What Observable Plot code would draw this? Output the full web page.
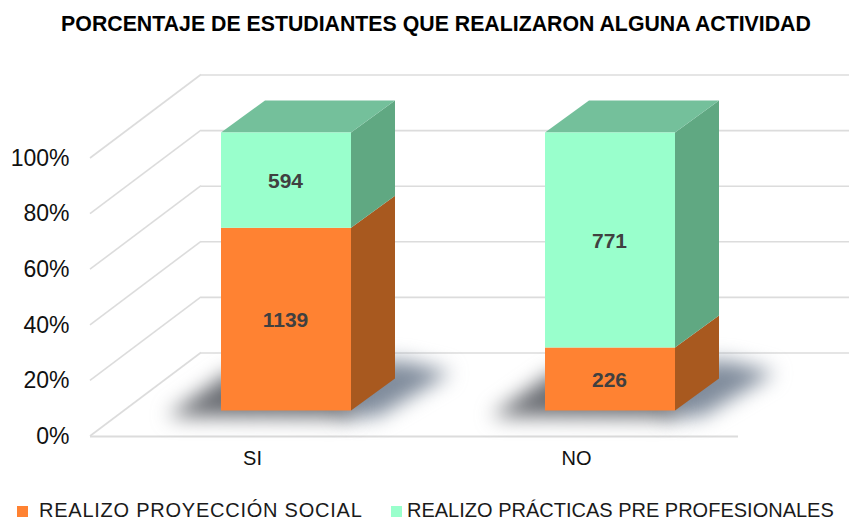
<!DOCTYPE html>
<html>
<head>
<meta charset="utf-8">
<script src="https://cdn.jsdelivr.net/npm/d3@7"></script>
<script src="https://cdn.jsdelivr.net/npm/@observablehq/plot@0.6"></script>
<style>
  html, body { margin: 0; padding: 0; background: #fff; }
  body { position: relative; width: 863px; height: 520px; overflow: hidden; font-family: "Liberation Sans", Arial, sans-serif; }
  #title { position: absolute; left: 0; top: 12px; width: 872px; text-align: center; font-weight: bold; font-size: 21.3px; line-height: 24px; color: #000; white-space: nowrap; }
  #chart { position: absolute; left: 0; top: 48px; }
  #chart svg { display: block; overflow: visible; }
  .key { position: absolute; top: 502px; font-size: 20px; line-height: 17px; color: #1a1a1a; white-space: nowrap; }
  .swatch { position: absolute; top: 506px; width: 11px; height: 11px; }
</style>
</head>
<body>
<div id="title"></div>
<div id="chart"></div>
<script>
const chartTitle = "PORCENTAJE DE ESTUDIANTES QUE REALIZARON ALGUNA ACTIVIDAD";
const categories = ["SI", "NO"];
const seriesNames = ["REALIZO PROYECCIÓN SOCIAL", "REALIZO PRÁCTICAS PRE PROFESIONALES"];
const proyeccion = [1139, 226];
const practicas = [594, 771];
const percentTicks = [0, 0.2, 0.4, 0.6, 0.8, 1];
const frontColors = ["#FF8232", "#99FFCC"];
const sideColors = ["#A8591F", "#60A882"];
const topColor = "#74C09B";
const gridColor = "#DCDCDC";

const rows = categories.flatMap((c, i) => [
  {categoria: c, serie: seriesNames[0], valor: proyeccion[i]},
  {categoria: c, serie: seriesNames[1], valor: practicas[i]}
]);

// 3D projection offsets (pixels)
const wall = {dx: 111, dy: -83.5};
const bar = {dx: 34, dy: -25.5, depthX: 44, depthY: -32};

const stacked = (extra) => Plot.stackY({
  x: "categoria", y: "valor", offset: "normalize", ...extra
});

const poly = (g, pts, fill, style) => {
  const p = g.append("polygon")
    .attr("points", pts.map(q => q.join(",")).join(" "))
    .attr("fill", fill);
  if (style) p.attr("style", style);
};

function shadows(index, scales, values) {
  const g = d3.create("svg:g");
  const w = scales.x.bandwidth();
  const y0 = scales.y(0) + bar.dy;
  for (const i of index) {
    if (rows[i].serie !== seriesNames[0]) continue;
    const xl = values.x[i] + bar.dx, xr = xl + w;
    poly(g, [
      [xr - 10, y0 + 6], [xr + 26, y0 + 6],
      [xr + 100, y0 - 38], [xr + 50, y0 - 50], [xr - 10, y0 - 44]
    ], "#808c9c", "filter: blur(10px)");
    poly(g, [
      [xl - 54, y0 + 6], [xr, y0 + 7],
      [xr, y0 - 36], [xl + 8, y0 - 38]
    ], "#6a6d73", "filter: blur(10px)");
  }
  return g.node();
}

function boxFaces(index, scales, values) {
  const g = d3.create("svg:g");
  const w = scales.x.bandwidth();
  const top = scales.y(1);
  for (const i of index) {
    const xl = values.x[i] + bar.dx, xr = xl + w;
    const y1 = values.y1[i] + bar.dy, y2 = values.y2[i] + bar.dy;
    const side = sideColors[seriesNames.indexOf(rows[i].serie)];
    poly(g, [
      [xr, y1], [xr + bar.depthX, y1 + bar.depthY],
      [xr + bar.depthX, y2 + bar.depthY], [xr, y2]
    ], side);
    if (Math.abs(values.y2[i] - top) < 0.5) {
      poly(g, [
        [xl, y2], [xl + bar.depthX, y2 + bar.depthY],
        [xr + bar.depthX, y2 + bar.depthY], [xr, y2]
      ], topColor);
    }
  }
  return g.node();
}

function sideWall(index, scales, values) {
  const g = d3.create("svg:g");
  const x0 = 90;
  for (const i of index) {
    g.append("line")
      .attr("x1", x0).attr("y1", values.y[i])
      .attr("x2", x0 + wall.dx).attr("y2", values.y[i] + wall.dy)
      .attr("stroke", gridColor).attr("stroke-width", 1.6);
  }
  return g.node();
}

const plot = Plot.plot({
  width: 863,
  height: 430,
  marginLeft: 90,
  marginRight: 125,
  marginTop: 110,
  marginBottom: 42,
  style: {background: "transparent", fontFamily: "Liberation Sans, Arial, sans-serif"},
  x: {domain: categories, paddingInner: 0.6, paddingOuter: 0.3, label: null},
  y: {domain: [0, 1], label: null},
  color: {domain: seriesNames, range: frontColors},
  marks: [
    Plot.ruleY(percentTicks, {dx: wall.dx, dy: wall.dy, stroke: gridColor, strokeWidth: 1.6}),
    Plot.ruleY(percentTicks, {y: d => d, render: sideWall}),
    Plot.ruleY([0], {stroke: gridColor, strokeWidth: 2}),
    Plot.barY(rows, stacked({render: shadows})),
    Plot.barY(rows, stacked({render: boxFaces})),
    Plot.barY(rows, stacked({fill: "serie", dx: bar.dx, dy: bar.dy})),
    Plot.text(rows, stacked({
      text: d => String(d.valor), dx: bar.dx - 1, dy: bar.dy + 1,
      fill: "#404040", fontWeight: "bold", fontSize: 21
    })),
    Plot.axisY({
      ticks: percentTicks, tickFormat: d => `${Math.round(d * 100)}%`,
      tickSize: 0, tickPadding: 21, fontSize: 23, label: null, fill: "#111"
    }),
    Plot.axisX({tickSize: 0, tickPadding: 14, fontSize: 20, label: null, fill: "#111"})
  ]
});
document.getElementById("chart").appendChild(plot);
document.getElementById("title").textContent = chartTitle;

const keyX = [[17, 39], [391, 407]];
const keySpacing = [0.76, 0];
seriesNames.forEach((name, i) => {
  const s = document.createElement("div");
  s.className = "swatch";
  s.style.left = keyX[i][0] + "px";
  s.style.background = frontColors[i];
  document.body.appendChild(s);
  const t = document.createElement("div");
  t.className = "key";
  t.style.left = keyX[i][1] + "px";
  t.style.letterSpacing = keySpacing[i] + "px";
  t.textContent = name;
  document.body.appendChild(t);
});
</script>
</body>
</html>
